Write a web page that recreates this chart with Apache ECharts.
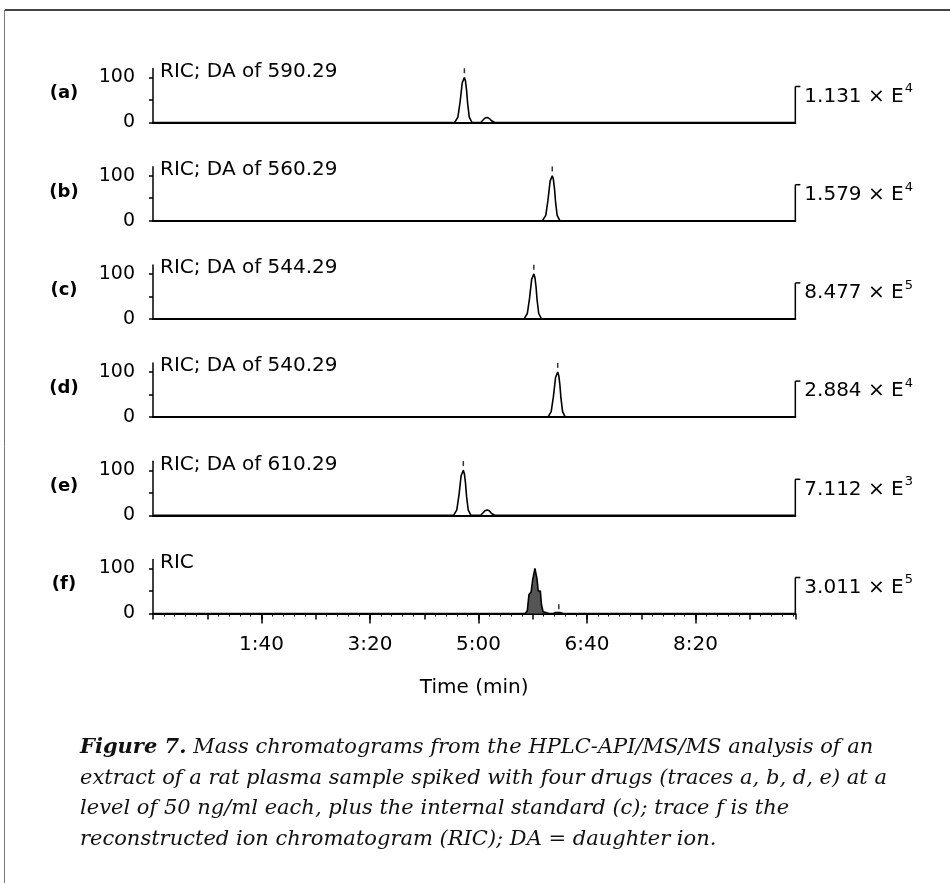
<!DOCTYPE html>
<html>
<head>
<meta charset="utf-8">
<script src="https://cdn.jsdelivr.net/npm/echarts@6/dist/echarts.min.js"></script>
<style>
html,body{margin:0;padding:0;background:#fff}
#main{width:950px;height:883px}
</style>
</head>
<body>
<div id="main"></div>
<script>
// panel text
var panelLetters = ['(a)', '(b)', '(c)', '(d)', '(e)', '(f)'];
var traceNames = ['RIC; DA of 590.29', 'RIC; DA of 560.29', 'RIC; DA of 544.29', 'RIC; DA of 540.29', 'RIC; DA of 610.29', 'RIC'];
var scaleMantissa = ['1.131', '1.579', '8.477', '2.884', '7.112', '3.011'];
var scaleExponent = ['4', '4', '5', '4', '3', '5'];

// time axis (seconds)
var timeMax = 592;
var timeTicks = [100, 200, 300, 400, 500];
var timeTickLabels = ['1:40', '3:20', '5:00', '6:40', '8:20'];

// traces: [time s, relative intensity %]
var traceA = [[0,0],[278,0],[281,12],[283,45],[285,88],[287,100],[288,92],[289,72],[290,42],[291.5,12],[294,0],
  [302,0],[304,5],[306,10],[308,11],[310,9],[312,4],[315,0],[592,0]];
var traceB = [[0,0],[359,0],[362,12],[364,45],[366,88],[368,100],[369,92],[370,72],[371,42],[372.5,12],[375,0],[592,0]];
var traceC = [[0,0],[342,0],[345,12],[347,45],[349,88],[351,100],[352,92],[353,72],[354,42],[355.5,12],[358,0],[592,0]];
var traceD = [[0,0],[364,0],[367,12],[369,45],[371,88],[373,100],[374,92],[375,72],[376,42],[377.5,12],[380,0],[592,0]];
var traceE = [[0,0],[277,0],[280,12],[282,45],[284,88],[286,100],[287,92],[288,72],[289,42],[290.5,12],[293,0],
  [294,2],[296,0],[302,0],[304,5],[306,10],[308,12],[310,10],[312,4],[315,0],[592,0]];
var traceF = [[0,0],[343,0],[345,6],[346.5,42],[348.5,48],[350,76],[352,100],[354,76],[355,50],[357,50],[358,20],[359.5,4],
  [362,2],[365,0],[369,0],[371,2],[375,2],[378,0],[592,0]];

// little dashes marking the peak apex
var markA = [[287, 115]];
var markB = [[368, 115]];
var markC = [[351, 115]];
var markD = [[373, 115]];
var markE = [[286, 115]];
var markF = [[374, 15]];

var traces = [traceA, traceB, traceC, traceD, traceE, traceF];
var peakMarks = [markA, markB, markC, markD, markE, markF];
var bracketTop = 80;

var font = "'DejaVu Sans', 'Liberation Sans', Arial, sans-serif";
var chart = echarts.init(document.getElementById('main'));

var baseY = 122.5, panelStep = 98.2, pxPerUnit = 0.45, yMax = 120, pxPerSec = 1.085;
var grids = [], xAxes = [], yAxes = [], series = [];

for (var i = 0; i < 6; i++) {
	var bottom = baseY + panelStep * i;
	grids.push({left: 153, width: timeMax * pxPerSec, top: bottom - yMax * pxPerUnit, height: yMax * pxPerUnit});
	xAxes.push({
		type: 'value', gridIndex: i, min: 0, max: timeMax, position: 'bottom',
		axisLine: {show: true, lineStyle: {color: '#000', width: 2}},
		axisTick: {show: i == 5, length: 6, lineStyle: {color: '#000', width: 1.5}},
		minorTick: {show: i == 5, splitNumber: 5, length: 3, lineStyle: {color: '#000', width: 1}},
		interval: 50,
		axisLabel: {show: false},
		splitLine: {show: false}
	});
	yAxes.push({
		type: 'value', gridIndex: i, min: 0, max: yMax,
		name: traceNames[i], nameLocation: 'end', nameGap: -3,
		nameTextStyle: {align: 'left', verticalAlign: 'middle', color: '#000', fontSize: 20, fontFamily: font, padding: [0, 0, 0, 7]},
		axisLine: {show: true, lineStyle: {color: '#000', width: 1.5}},
		axisTick: {show: true, customValues: [0, 50, 100], length: 4, lineStyle: {color: '#000', width: 1.5}},
		axisLabel: {customValues: [0, 100], color: '#000', fontSize: 19, fontFamily: font, margin: 18},
		splitLine: {show: false}
	});
	series.push({
		type: 'line', xAxisIndex: i, yAxisIndex: i, data: traces[i],
		showSymbol: false, clip: false,
		lineStyle: {color: '#000', width: 1.6},
		areaStyle: i == 5 ? {color: '#555', opacity: 1} : null
	});
	series.push({
		type: 'scatter', xAxisIndex: i, yAxisIndex: i, data: peakMarks[i],
		symbol: 'rect', symbolSize: [1.5, 5], itemStyle: {color: '#000'}
	});
}
// long ticks and labels every 100 s on the bottom panel
xAxes.push({
	type: 'value', gridIndex: 5, min: 0, max: timeMax, interval: 100, position: 'bottom',
	name: 'Time (min)', nameLocation: 'middle', nameGap: 64,
	nameTextStyle: {color: '#000', fontSize: 20, fontFamily: font},
	axisLine: {show: false},
	axisTick: {show: true, customValues: timeTicks, length: 10, lineStyle: {color: '#000', width: 1.5}},
	axisLabel: {customValues: timeTicks, margin: 21, color: '#000', fontSize: 20, fontFamily: font,
		formatter: function (v) { return timeTickLabels[timeTicks.indexOf(v)]; }},
	splitLine: {show: false}
});

chart.setOption({
	animation: false,
	backgroundColor: '#fff',
	grid: grids, xAxis: xAxes, yAxis: yAxes, series: series
});

// frame, panel letters, scale brackets, caption
var gfx = [
	{type: 'line', shape: {x1: 5, y1: 10, x2: 950, y2: 10}, style: {stroke: '#444', lineWidth: 2}},
	{type: 'line', shape: {x1: 4.5, y1: 10, x2: 4.5, y2: 883}, style: {stroke: '#777', lineWidth: 1}}
];
for (var k = 0; k < 6; k++) {
	var p0 = chart.convertToPixel({gridIndex: k}, [timeMax, 0]);
	var p1 = chart.convertToPixel({gridIndex: k}, [timeMax, bracketTop]);
	var pm = chart.convertToPixel({gridIndex: k}, [0, 64]);
	gfx.push({type: 'text', x: 64, y: pm[1], style: {text: panelLetters[k], font: 'bold 18px ' + font, fill: '#000', align: 'center', verticalAlign: 'middle'}});
	gfx.push({type: 'line', shape: {x1: p0[0], y1: p0[1], x2: p1[0], y2: p1[1]}, style: {stroke: '#000', lineWidth: 1.5}});
	gfx.push({type: 'line', shape: {x1: p1[0], y1: p1[1], x2: p1[0] + 5, y2: p1[1]}, style: {stroke: '#000', lineWidth: 1.5}});
	gfx.push({type: 'text', x: p1[0] + 9, y: p1[1] - 4, style: {
		text: '{m|' + scaleMantissa[k] + ' × E}{s|' + scaleExponent[k] + '}',
		verticalAlign: 'top',
		rich: {
			m: {fontSize: 20, fontFamily: font, fill: '#000', lineHeight: 24, verticalAlign: 'bottom'},
			s: {fontSize: 13, fontFamily: font, fill: '#000', lineHeight: 24, verticalAlign: 'top', padding: [0, 0, 11, 1]}
		}
	}});
}
var serif = "'DejaVu Serif', 'Liberation Serif', serif";
var captionLines = [
	'{b|Figure 7.} Mass chromatograms from the HPLC-API/MS/MS analysis of an',
	'extract of a rat plasma sample spiked with four drugs (traces a, b, d, e) at a',
	'level of 50 ng/ml each, plus the internal standard (c); trace f is the',
	'reconstructed ion chromatogram (RIC); DA = daughter ion.'
];
for (var c = 0; c < captionLines.length; c++) {
	gfx.push({type: 'text', x: 80, y: 748 + c * 30.5, style: {
		text: captionLines[c], fill: '#111', verticalAlign: 'middle',
		font: 'italic 21px ' + serif,
		rich: {b: {fontFamily: serif, fontStyle: 'italic', fontWeight: 'bold', fontSize: 21, fill: '#111'}}
	}});
}
chart.setOption({graphic: gfx});
</script>
</body>
</html>
